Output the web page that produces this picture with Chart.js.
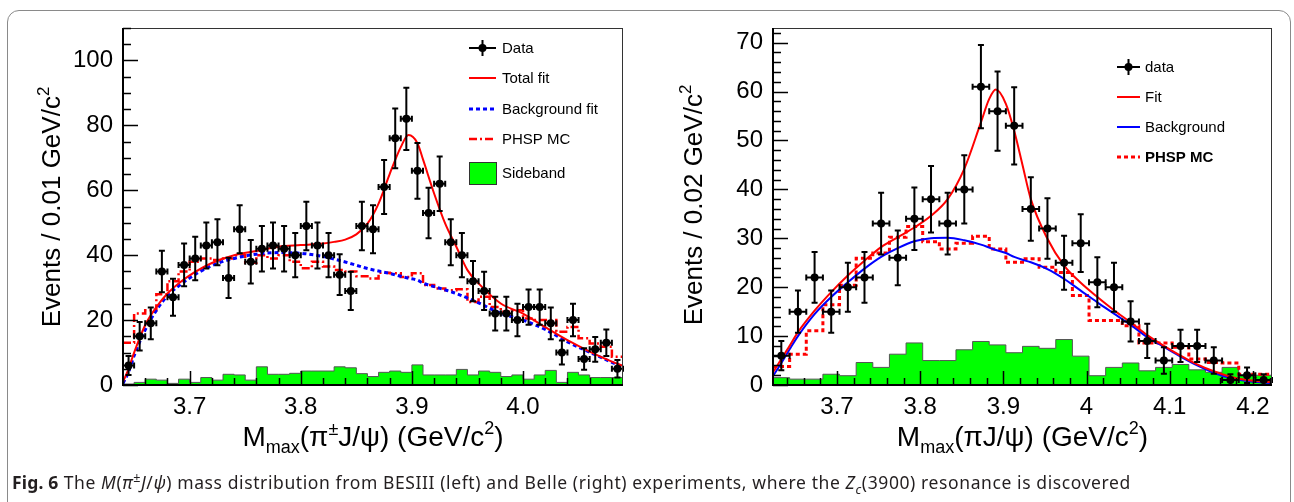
<!DOCTYPE html>
<html>
<head>
<meta charset="utf-8">
<script src="https://cdn.jsdelivr.net/npm/chart.js@4.4.1/dist/chart.umd.min.js"></script>
<style>
html,body{margin:0;padding:0;background:#fff;}
#page{position:relative;width:1294px;height:502px;overflow:hidden;}
#frame{position:absolute;left:7px;top:10px;width:1282px;height:560px;border:1px solid #8a8a8a;border-radius:12px;}
canvas{position:absolute;top:0;}
#c1{left:0;}
#c2{left:650px;}
#caption{position:absolute;left:12px;top:471px;font-family:"Noto Sans",sans-serif;font-size:17.5px;letter-spacing:0.6px;line-height:22px;color:#231f20;white-space:nowrap;}
#caption b{letter-spacing:0.2px;}
#caption sup,#caption sub{font-size:0.72em;line-height:0;}
</style>
</head>
<body>
<div id="page">
  <div id="frame"></div>
  <canvas id="c1" width="650" height="470"></canvas>
  <canvas id="c2" width="644" height="470"></canvas>
  <div id="caption"><b>Fig. 6</b> The <i>M</i>(<i>π</i><sup>±</sup><i>J</i>/<i>ψ</i>) mass distribution from BESIII (left) and Belle (right) experiments, where the <i>Z</i><sub><i>c</i></sub>(3900) resonance is discovered</div>
</div>
<script>
// Two ROOT-style panels: BESIII (left) and Belle (right) M_max(pi J/psi) spectra

const FONT = '"Liberation Sans", Arial, Helvetica, sans-serif';

// ---- BESIII, 0.01 GeV/c^2 bins
const besCenters = [3.645,3.655,3.665,3.675,3.685,3.695,3.705,3.715,3.725,3.735,3.745,3.755,3.765,3.775,3.785,
  3.795,3.805,3.815,3.825,3.835,3.845,3.855,3.865,3.875,3.885,3.895,3.905,3.915,3.925,3.935,
  3.945,3.955,3.965,3.975,3.985,3.995,4.005,4.015,4.025,4.035,4.045,4.055,4.065,4.075,4.085];
const besCounts = [6,15,19,35,27,37,39,43,44,33,48,38,42,43,42,40,49,43,40,34,29,49,48,61,76,82,66,53,62,44,
  40,32,29,22,22,20,24,24,19,10,20,8,11,13,5];
const besErrors = [2.9,4.4,4.9,6.4,5.7,6.6,6.7,7.1,7.1,6.2,7.4,6.7,7.0,7.1,7.0,6.8,7.5,7.1,6.8,6.3,5.9,7.5,7.4,8.3,9.2,9.6,8.6,7.8,8.4,7.1,
  6.8,6.2,5.9,5.2,5.2,5.0,5.4,5.4,4.9,3.7,5.0,3.3,3.8,4.1,2.7];
const besSideband = [0.3,0.8,1.8,1.5,0.5,1.8,0.8,2.3,1.5,3.3,3.1,1.5,5.6,3.3,3.3,3.6,4.3,4.3,4.3,5.6,
  5.3,3.5,2.6,3.9,4.3,3.9,6.2,3.1,3.1,3.1,4.8,3.1,4.3,3.9,2.6,3.1,1.8,3.1,4.5,0.8,3.9,3.1,2.3,2.3,2.3];
const besPhsp = [13,22,23,28,32,35,38,39,38.5,39,40,37.7,40,39,40,38,36,38,36.5,35.4,
  35,33.5,32.8,34.6,34.4,33.3,34.4,30.8,29.7,29.2,29.5,25.6,27.2,24,22.6,23,20.5,20,20,16.4,17.9,14.4,12.8,11.8,8.7];
const besCurveX = [3.64,3.645,3.65,3.66,3.67,3.68,3.69,3.70,3.72,3.74,3.76,3.78,3.80,3.82,3.83,3.84,3.85,3.86,
  3.87,3.88,3.89,3.897,3.905,3.91,3.92,3.93,3.94,3.95,3.96,3.98,4.00,4.02,4.04,4.06,4.08,4.09];
const besTotalFit = [1,5,10,18.5,24,28.2,31.3,33.8,37.6,40,41.3,42.6,43.1,43.6,44.1,44.8,46.4,49.7,
  55.9,65,73.3,77,74.5,69.5,59,49.7,42.6,35.4,31.3,25.1,22,17.8,13.8,10.3,7.2,5.9];
const besBkgFit = [0.5,4,9,17,23,27.5,30.5,33,36.8,39,40.3,40.8,40.6,39.6,38.8,37.9,36.9,35.9,
  35.1,34.4,33.5,32.9,32.3,31.4,30.3,29.3,28.2,26.8,25.3,22.1,20,17.1,13.3,10.1,7.0,5.6];
const besXTicks = [3.7,3.8,3.9,4.0];
const besXTickLabels = ['3.7','3.8','3.9','4.0'];
const besYTicks = [0,20,40,60,80,100];
const besYTickLabels = ['0','20','40','60','80','100'];

// ---- Belle, 0.02 GeV/c^2 bins
const belleCenters = [3.633,3.653,3.673,3.693,3.713,3.733,3.753,3.773,3.793,3.813,3.833,3.853,3.873,3.893,3.913,
  3.933,3.953,3.973,3.993,4.013,4.033,4.053,4.073,4.093,4.113,4.133,4.153,4.173,4.193,4.213];
const belleCounts = [6,15,22,15,20,22,33,26,34,38,33,40,61,56,53,36,32,25,29,21,20,13,9,5,8,8,5,1,2,1];
const belleErrors = [3.0,4.3,5.2,4.3,5.0,5.2,6.3,5.6,6.4,6.8,6.3,7.0,8.5,8.1,7.9,6.5,6.2,5.5,5.9,5.1,
  5.0,4.1,3.5,2.7,3.3,3.3,2.7,1.2,1.6,1.2];
const belleSideband = [1.5,1.2,1.2,2.2,1.9,4.6,3.6,6.3,8.6,5.0,5.0,7.2,8.9,8.2,6.6,7.9,7.5,9.3,5.9,1.9,
  3.6,4.5,2.9,3.6,4.2,3.1,2.6,3.6,1.9,2.0];
const bellePhsp = [3.8,6.3,11.1,16.4,20.4,25.9,27,30.2,32.4,29.3,27.8,29,30.4,27.8,25.1,25.8,24.1,23,18.3,13.2,
  13.2,12.1,8.6,8.6,7.7,5.3,4.6,4.5,2.2,2.2];
const belleCurveX = [3.623,3.633,3.643,3.653,3.673,3.693,3.713,3.733,3.753,3.773,3.793,3.813,3.833,3.853,3.873,
  3.883,3.891,3.903,3.913,3.923,3.933,3.953,3.973,3.993,4.013,4.033,4.053,4.073,4.093,4.113,4.133,4.153,4.173,4.193,4.213,4.223];
const belleFit = [2.6,5.3,8.0,10.8,15.2,19,22.4,25.4,28.2,30.2,32.2,34.6,38,44.2,53.7,
  58.5,60.4,57.5,52,45,38,29.9,24.4,20.9,18,15.3,12.8,10.2,8.0,6.0,4.2,2.8,1.7,1.0,0.7,0.6];
const belleBkg = [1.8,4.5,7.3,10,14.5,18,21,23.8,26.2,28,29.4,30,30.1,29.6,28.7,
  28.1,27.6,27,26.2,25.6,25.1,23.7,21.7,19.3,16.9,14.6,12.3,9.8,7.8,5.8,4.0,2.5,1.4,0.8,0.5,0.4];
const belleXTicks = [3.7,3.8,3.9,4.0,4.1,4.2];
const belleXTickLabels = ['3.7','3.8','3.9','4','4.1','4.2'];
const belleYTicks = [0,10,20,30,40,50,60,70];
const belleYTickLabels = ['0','10','20','30','40','50','60','70'];

function xy(xs, ys){ return xs.map((x, i) => ({x: x, y: ys[i]})); }

// left-edge points + closing right edge, drawn with stepped lines
function histPoints(centers, values, half){
  const pts = centers.map((c, i) => ({x: c - half, y: values[i]}));
  pts.push({x: centers[centers.length - 1] + half, y: values[values.length - 1]});
  return pts;
}

function drawRich(ctx, segs, x, y){
  let total = 0;
  segs.forEach(s => { ctx.font = (s[3] || '') + ' ' + s[1] + 'px ' + FONT; total += ctx.measureText(s[0]).width; });
  let cx = x - total / 2;
  segs.forEach(s => {
    ctx.font = (s[3] || '') + ' ' + s[1] + 'px ' + FONT;
    ctx.fillText(s[0], cx, y + (s[2] || 0));
    cx += ctx.measureText(s[0]).width;
  });
}

// error bars for the data points
const errorBarPlugin = {
  id: 'errorBars',
  afterDatasetsDraw(chart){
    const ctx = chart.ctx, xs = chart.scales.x, ys = chart.scales.y;
    ctx.save();
    ctx.strokeStyle = '#000';
    ctx.lineWidth = 2;
    chart.data.datasets.forEach(ds => {
      if(!ds.errY) return;
      ds.data.forEach((p, i) => {
        const px = xs.getPixelForValue(p.x), py = ys.getPixelForValue(p.y);
        const yt = ys.getPixelForValue(p.y + ds.errY[i]);
        const yb = ys.getPixelForValue(Math.max(0, p.y - ds.errY[i]));
        const xl = xs.getPixelForValue(p.x - ds.halfW), xr = xs.getPixelForValue(p.x + ds.halfW);
        ctx.beginPath();
        ctx.moveTo(px, yt); ctx.lineTo(px, yb);
        ctx.moveTo(px - 3, yt); ctx.lineTo(px + 3, yt);
        ctx.moveTo(px - 3, yb); ctx.lineTo(px + 3, yb);
        ctx.moveTo(xl, py); ctx.lineTo(xr, py);
        ctx.moveTo(xl, py - 3); ctx.lineTo(xl, py + 3);
        ctx.moveTo(xr, py - 3); ctx.lineTo(xr, py + 3);
        ctx.stroke();
      });
    });
    ctx.restore();
  }
};

// frame, inside ticks, axis titles and legend
const rootFramePlugin = {
  id: 'rootFrame',
  afterDraw(chart, args, o){
    const ctx = chart.ctx, a = chart.chartArea, xs = chart.scales.x, ys = chart.scales.y;
    ctx.save();
    ctx.strokeStyle = '#333';
    ctx.lineWidth = 1;
    ctx.strokeRect(a.left + 0.5, a.top + 0.5, a.right - a.left - 1, a.bottom - a.top);
    ctx.strokeStyle = '#000';
    ctx.lineWidth = 2;
    ctx.beginPath();
    ctx.moveTo(a.left, a.top); ctx.lineTo(a.left, a.bottom); ctx.lineTo(a.right, a.bottom);
    ctx.stroke();

    ctx.lineWidth = 1.5;
    ctx.beginPath();
    for(let k = 0; ; k++){
      const v = o.yMinor * k;
      if(v > ys.max) break;
      const major = o.yTicks.some(t => Math.abs(t - v) < 1e-6);
      const py = Math.round(ys.getPixelForValue(v)) + 0.5;
      ctx.moveTo(a.left, py); ctx.lineTo(a.left + (major ? 15 : 8), py);
    }
    const k0 = Math.ceil(xs.min / o.xMinor - 1e-6), k1 = Math.floor(xs.max / o.xMinor + 1e-6);
    for(let k = k0; k <= k1; k++){
      const v = k * o.xMinor;
      const major = o.xTicks.some(t => Math.abs(t - v) < 1e-6);
      const px = Math.round(xs.getPixelForValue(v)) + 0.5;
      ctx.moveTo(px, a.bottom); ctx.lineTo(px, a.bottom - (major ? 14 : 7));
    }
    ctx.stroke();

    // axis titles
    ctx.fillStyle = '#000';
    ctx.textBaseline = 'alphabetic';
    drawRich(ctx, o.xTitle, (a.left + a.right) / 2, 446);
    ctx.save();
    ctx.translate(o.yTitlePos[0], o.yTitlePos[1]);
    ctx.rotate(-Math.PI / 2);
    drawRich(ctx, o.yTitle, 0, 0);
    ctx.restore();

    // legend
    const L = o.legend;
    ctx.textBaseline = 'middle';
    L.items.forEach(it => {
      const y = it.y;
      ctx.save();
      if(it.kind === 'data'){
        ctx.strokeStyle = '#000'; ctx.lineWidth = 2;
        ctx.beginPath();
        ctx.moveTo(L.x0, y); ctx.lineTo(L.x1, y);
        ctx.moveTo((L.x0 + L.x1) / 2, y - 8); ctx.lineTo((L.x0 + L.x1) / 2, y + 8);
        ctx.stroke();
        ctx.fillStyle = '#000';
        ctx.beginPath(); ctx.arc((L.x0 + L.x1) / 2, y, 4, 0, Math.PI * 2); ctx.fill();
      } else if(it.kind === 'box'){
        ctx.fillStyle = '#00ff00'; ctx.strokeStyle = '#333'; ctx.lineWidth = 1;
        ctx.fillRect(L.x0, y - 11, L.x1 - L.x0, 22);
        ctx.strokeRect(L.x0 + 0.5, y - 10.5, L.x1 - L.x0, 22);
      } else {
        ctx.strokeStyle = it.color; ctx.lineWidth = it.width; ctx.setLineDash(it.dash || []);
        ctx.beginPath(); ctx.moveTo(L.x0, y); ctx.lineTo(L.x1, y); ctx.stroke();
      }
      ctx.restore();
      ctx.fillStyle = '#000';
      ctx.font = (it.bold ? 'bold ' : '') + '15px ' + FONT;
      ctx.fillText(it.text, L.tx, y + 1);
    });
    ctx.restore();
  }
};

function makePanel(id, p){
  const tickFont = {family: FONT, size: 24};
  return new Chart(document.getElementById(id), {
    type: 'line',
    data: {
      datasets: [
        {data: xy(p.centers, p.counts), showLine: false, pointRadius: 4, pointBackgroundColor: '#000',
          pointBorderColor: '#000', pointBorderWidth: 0, errY: p.errors, halfW: p.half},
        {data: xy(p.curveX, p.fit), borderColor: '#ff0000', borderWidth: 2, pointRadius: 0,
          cubicInterpolationMode: 'monotone'},
        {data: xy(p.curveX, p.bkg), borderColor: '#0000ff', borderWidth: p.bkgWidth, borderDash: p.bkgDash,
          pointRadius: 0, cubicInterpolationMode: 'monotone'},
        {data: histPoints(p.centers, p.phsp, p.half), borderColor: '#ff0000', borderWidth: p.phspWidth,
          borderDash: p.phspDash, stepped: true, pointRadius: 0},
        {data: histPoints(p.centers, p.side, p.half), borderColor: '#555', borderWidth: 1,
          backgroundColor: '#00ff00', fill: 'origin', stepped: true, pointRadius: 0}
      ]
    },
    options: {
      responsive: false,
      animation: false,
      devicePixelRatio: 1,
      layout: {padding: {top: 28, right: p.padRight, left: 0, bottom: 0}},
      plugins: {
        legend: {display: false},
        tooltip: {enabled: false},
        rootFrame: {
          xTicks: p.xTicks, yTicks: p.yTicks, xMinor: 0.02, yMinor: p.yMinor,
          xTitle: p.xTitle, yTitle: p.yTitle, yTitlePos: p.yTitlePos, legend: p.legend
        }
      },
      scales: {
        x: {
          type: 'linear', min: p.xMin, max: p.xMax,
          grid: {display: false, drawTicks: false}, border: {display: false},
          afterBuildTicks: s => { s.ticks = p.xTicks.map(v => ({value: v})); },
          afterFit: s => { s.height = 85; },
          ticks: {callback: (v, i) => p.xTickLabels[i], font: tickFont, color: '#000',
            padding: 8, maxRotation: 0, autoSkip: false}
        },
        y: {
          type: 'linear', min: 0, max: p.yMax,
          grid: {display: false, drawTicks: false}, border: {display: false},
          afterBuildTicks: s => { s.ticks = p.yTicks.map(v => ({value: v})); },
          afterFit: s => { s.width = 123; },
          ticks: {callback: (v, i) => p.yTickLabels[i], font: tickFont, color: '#000', padding: 10}
        }
      }
    },
    plugins: [errorBarPlugin, rootFramePlugin]
  });
}

makePanel('c1', {
  centers: besCenters, counts: besCounts, errors: besErrors, half: 0.005,
  side: besSideband, phsp: besPhsp, curveX: besCurveX, fit: besTotalFit, bkg: besBkgFit,
  bkgWidth: 3, bkgDash: [4, 3], phspWidth: 2.5, phspDash: [8, 3, 2, 3],
  xMin: 3.64, xMax: 4.09, yMax: 110, yMinor: 5, padRight: 27,
  xTicks: besXTicks, xTickLabels: besXTickLabels, yTicks: besYTicks, yTickLabels: besYTickLabels,
  xTitle: [['M', 28], ['max', 18, 7], ['(\u03c0', 28], ['\u00b1', 18, -11], ['J/\u03c8) (GeV/c', 28], ['2', 18, -12], [')', 28]],
  yTitle: [['Events / 0.01 GeV/c', 26], ['2', 17, -11]],
  yTitlePos: [60, 207],
  legend: {x0: 469, x1: 496, tx: 502, items: [
    {kind: 'data', y: 48, text: 'Data'},
    {kind: 'line', y: 78, text: 'Total fit', color: '#ff0000', width: 2},
    {kind: 'line', y: 109, text: 'Background fit', color: '#0000ff', width: 3, dash: [4, 3]},
    {kind: 'line', y: 139, text: 'PHSP MC', color: '#ff0000', width: 2.5, dash: [8, 3, 2, 3]},
    {kind: 'box', y: 173, text: 'Sideband'}
  ]}
});

makePanel('c2', {
  centers: belleCenters, counts: belleCounts, errors: belleErrors, half: 0.01,
  side: belleSideband, phsp: bellePhsp, curveX: belleCurveX, fit: belleFit, bkg: belleBkg,
  bkgWidth: 2, bkgDash: [], phspWidth: 3, phspDash: [4, 3],
  xMin: 3.623, xMax: 4.223, yMax: 73, yMinor: 2, padRight: 22,
  xTicks: belleXTicks, xTickLabels: belleXTickLabels, yTicks: belleYTicks, yTickLabels: belleYTickLabels,
  xTitle: [['M', 28], ['max', 18, 7], ['(\u03c0J/\u03c8) (GeV/c', 28], ['2', 18, -12], [')', 28]],
  yTitle: [['Events / 0.02 GeV/c', 26], ['2', 17, -11]],
  yTitlePos: [52, 205],
  legend: {x0: 467, x1: 490, tx: 495, items: [
    {kind: 'data', y: 67, text: 'data'},
    {kind: 'line', y: 97, text: 'Fit', color: '#ff0000', width: 2},
    {kind: 'line', y: 127, text: 'Background', color: '#0000ff', width: 2},
    {kind: 'line', y: 157, text: 'PHSP MC', color: '#ff0000', width: 3, dash: [4, 3], bold: true}
  ]}
});
</script>
</body>
</html>
